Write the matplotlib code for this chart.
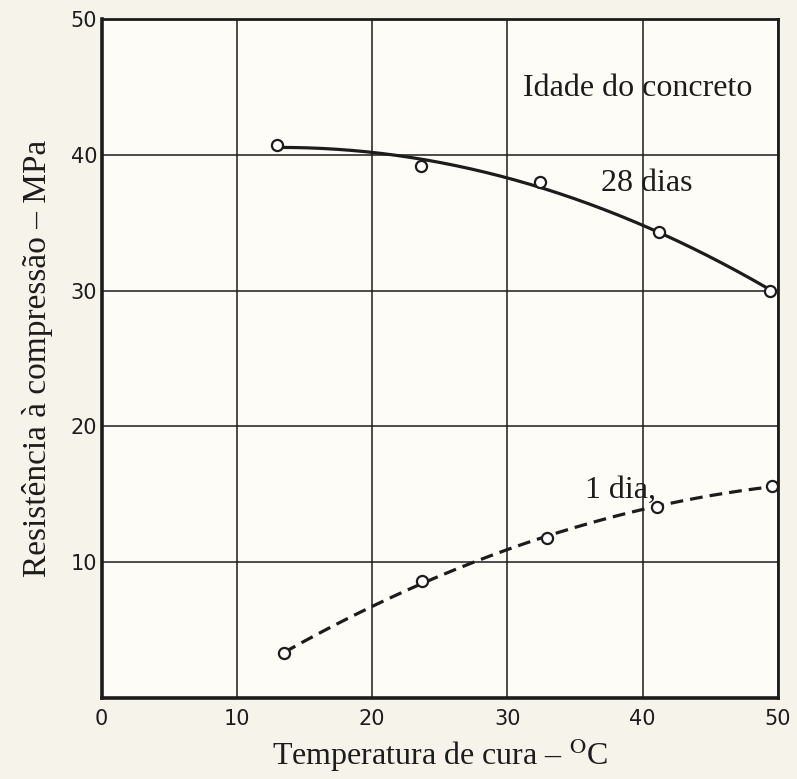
import matplotlib
matplotlib.use('Agg')
import matplotlib.pyplot as plt
import numpy as np

# temperatura de cura (oC) e resistencia (MPa)
temp_28 = [13.0, 23.6, 32.4, 41.2, 49.4]
res_28 = [40.7, 39.2, 38.0, 34.3, 30.0]

temp_1 = [13.5, 23.7, 32.9, 41.1, 49.6]
res_1 = [3.3, 8.6, 11.8, 14.1, 15.6]

xticks = [0, 10, 20, 30, 40, 50]
yticks = [10, 20, 30, 40, 50]

ink = '#1c1c1c'
plt.rcParams['mathtext.fontset'] = 'stix'

fig = plt.figure(figsize=(7.97, 7.79), dpi=100, facecolor='#f6f3ea')
ax = fig.add_axes([0.1274, 0.104, 0.8486, 0.8716])
ax.set_facecolor('#fdfcf7')

# curvas ajustadas aos pontos
xs = np.linspace(temp_28[0], temp_28[-1], 200)
ax.plot(xs, np.polyval(np.polyfit(temp_28, res_28, 2), xs), color=ink, lw=2.3, zorder=3)
xs = np.linspace(temp_1[0], temp_1[-1], 200)
ax.plot(xs, np.polyval(np.polyfit(temp_1, res_1, 2), xs), color=ink, lw=2.3,
        ls=(0, (4, 2.2)), zorder=3)

ax.plot(temp_28, res_28, 'o', ms=8, mfc='white', mec=ink, mew=1.6, zorder=4, clip_on=False)
ax.plot(temp_1, res_1, 'o', ms=8, mfc='white', mec=ink, mew=1.6, zorder=4, clip_on=False)

ax.set_xlim(0, 50)
ax.set_ylim(0, 50)
ax.set_xticks(xticks)
ax.set_yticks(yticks)
ax.grid(True, color=ink, lw=1.1)
ax.tick_params(length=0, labelsize=15, colors=ink, pad=8)
ax.tick_params(axis='y', pad=3)
for s in ax.spines.values():
    s.set_color(ink)
    s.set_linewidth(2.0)
ax.spines['left'].set_linewidth(2.6)
ax.spines['bottom'].set_linewidth(2.6)

serif = 'Liberation Serif'
ax.text(39.6, 44.9, 'Idade do concreto', fontsize=23, family=serif, ha='center', va='center', color=ink)
ax.text(40.3, 37.9, '28 dias', fontsize=23, family=serif, ha='center', va='center', color=ink)
ax.text(38.4, 15.3, '1 dia,', fontsize=23, family=serif, ha='center', va='center', color=ink)

ax.set_xlabel('Temperatura de cura – $^{\\mathrm{O}}$C', fontsize=23, family=serif, color=ink, labelpad=5)
ax.set_ylabel('Resistência à compressão – MPa', fontsize=24, family=serif, color=ink, labelpad=13)

fig.savefig('out.png', dpi=100, facecolor=fig.get_facecolor())
